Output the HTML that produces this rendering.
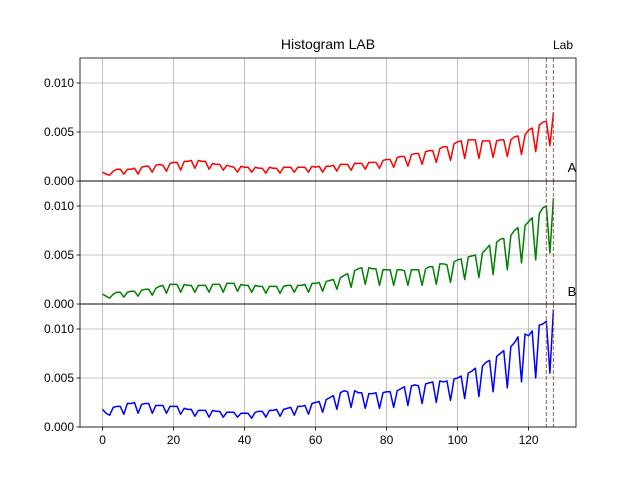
<!DOCTYPE html>
<html><head><meta charset="utf-8"><style>
body{margin:0;background:#fff}
svg{font-family:"Liberation Sans","DejaVu Sans",sans-serif}
</style></head><body>
<svg id="c" width="640" height="480" viewBox="0 0 640 480">
<rect width="640" height="480" fill="#fff"/>
<text x="328" y="49" font-size="14" text-anchor="middle">Histogram LAB</text>
<text x="563" y="49" font-size="12" text-anchor="middle">Lab</text>
<text x="572" y="172" font-size="13" text-anchor="middle">A</text>
<text x="572" y="296" font-size="13" text-anchor="middle">B</text>
</svg>
<script>
const xTicks=[0,20,40,60,80,100,120];
const yTicks=[0,0.005,0.01];
const yTickLabels=["0.000","0.005","0.010"];
const markers=[125,127];
const redL=[9,7,6,10,12,12,7,12,12,13,7,14,15,15,9,16,17,16,10,18,19,19,11,20,20,21,13,21,20,20,12,18,17,17,11,16,15,14,9,15,14,14,9,14,13,13,8,14,13,13,8,14,14,14,9,14,14,14,9,15,14,15,9,15,15,16,10,17,17,17,11,18,18,18,12,19,19,19,13,21,22,22,14,24,25,25,15,27,28,28,17,30,31,31,19,33,35,35,21,38,40,41,23,42,42,42,23,41,41,41,24,41,42,42,25,42,45,46,27,47,52,54,30,57,60,61,36,70];
const greenA=[10,8,6,10,12,12,7,12,13,13,8,14,15,15,9,16,18,19,11,20,20,20,12,20,19,19,12,19,19,19,12,20,20,20,12,21,21,21,13,20,19,19,12,19,18,18,11,18,18,18,11,18,19,19,12,19,19,20,12,21,21,22,13,23,24,25,15,27,29,31,17,34,36,37,20,37,36,36,19,35,35,35,19,35,35,34,19,35,35,35,19,36,38,38,20,41,41,40,22,43,45,46,25,48,49,50,27,52,56,60,30,63,66,67,35,70,75,78,42,80,84,88,45,92,98,100,52,108];
const blueB=[18,14,12,20,21,21,13,24,24,25,14,23,24,24,14,22,22,22,14,21,21,21,13,19,18,18,11,17,17,17,10,17,16,16,10,15,15,15,10,14,14,14,9,15,16,16,10,17,17,18,11,18,19,20,12,21,21,22,13,24,25,26,15,28,30,32,18,35,37,36,20,37,35,35,19,34,34,35,19,35,36,36,20,37,39,41,22,42,43,42,24,44,45,46,25,47,46,47,27,49,50,52,29,55,57,60,31,62,66,68,36,72,75,78,40,82,86,92,46,95,93,98,50,104,105,108,55,120];
const series=[{d:redL,c:"#ff0000",n:"l"},{d:greenA,c:"#008000",n:"a"},{d:blueB,c:"#0000ff",n:"b"}];
const NS="http://www.w3.org/2000/svg",svg=document.getElementById('c');
const L=80,R=576,H=123,tops=[58,181,304],xmin=-6.35,xmax=133.35,ymax=0.01255;
const sx=v=>L+(v-xmin)/(xmax-xmin)*(R-L);
function mk(t,a,p){const e=document.createElementNS(NS,t);for(const k in a)e.setAttribute(k,a[k]);(p||svg).appendChild(e);return e;}
tops.forEach((T,i)=>{
  const sy=v=>T+H-v/ymax*H;
  const g=mk('g',{});
  
  
  xTicks.forEach(t=>{const l=mk('line',{x1:sx(t),x2:sx(t),y1:T,y2:T+H,stroke:'#b0b0b0','stroke-width':0.8},g);
    });
  yTicks.forEach((t,j)=>{const l=mk('line',{x1:L,x2:R,y1:sy(t),y2:sy(t),stroke:'#b0b0b0','stroke-width':0.8},g);
    
    mk('line',{x1:L-3.5,x2:L,y1:sy(t),y2:sy(t),stroke:'#000','stroke-width':0.8},g);
    const tx=mk('text',{x:L-6,y:sy(t)+4,'font-size':12,'text-anchor':'end'},g);tx.textContent=yTickLabels[j];
    });
  const s=series[i];
  const pts=s.d.map((v,k)=>sx(k).toFixed(2)+','+sy(v*1e-4).toFixed(2)).join(' ');
  const pl=mk('polyline',{points:pts,fill:'none',stroke:s.c,'stroke-width':1.5,'stroke-linejoin':'round'},g);
  
  markers.forEach(m=>{const l=mk('line',{x1:sx(m),x2:sx(m),y1:T,y2:T+H,stroke:'#8c564b','stroke-width':1.2,'stroke-dasharray':'4,2',opacity:0.8},g);
    });
  const fr=mk('rect',{x:L,y:T,width:R-L,height:H,fill:'none',stroke:'#000','stroke-width':0.8},g);
  
});
const B=tops[2]+H;
xTicks.forEach(t=>{mk('line',{x1:sx(t),x2:sx(t),y1:B,y2:B+3.5,stroke:'#000','stroke-width':0.8});
  const tx=mk('text',{x:sx(t),y:B+17,'font-size':12,'text-anchor':'middle'});tx.textContent=t;
  });
</script>
</body></html>
